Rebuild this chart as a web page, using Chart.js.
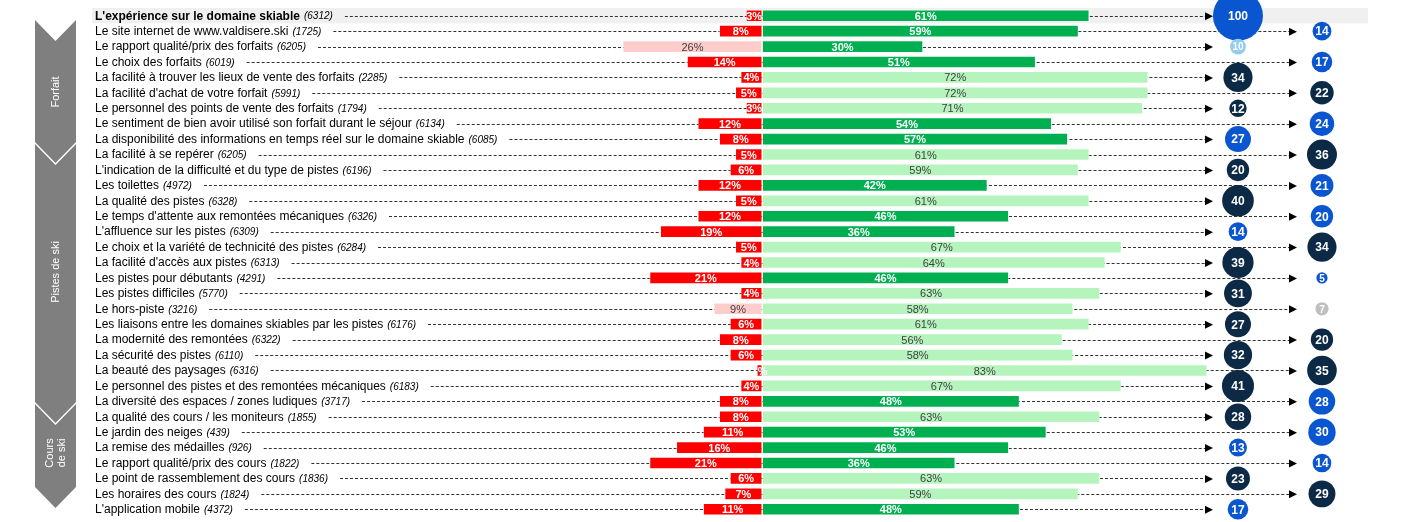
<!DOCTYPE html>
<html>
<head>
<meta charset="utf-8">
<script src="https://cdn.jsdelivr.net/npm/chart.js@4.4.1/dist/chart.umd.min.js"></script>
<style>
  html, body { margin: 0; padding: 0; background: #fff; }
  #wrap { width: 1401px; height: 522px; }
</style>
</head>
<body>
<div id="wrap"><canvas id="satisfactionChart" width="1401" height="522"></canvas></div>
<script>
// === satisfaction chart ===
// Items, base sizes, % dissatisfied / satisfied, and the bubble column on the right.

const labels = [
    "L'expérience sur le domaine skiable",
    "Le site internet de www.valdisere.ski",
    "Le rapport qualité/prix des forfaits",
    "Le choix des forfaits",
    "La facilité à trouver les lieux de vente des forfaits",
    "La facilité d'achat de votre forfait",
    "Le personnel des points de vente des forfaits",
    "Le sentiment de bien avoir utilisé son forfait durant le séjour",
    "La disponibilité des informations en temps réel sur le domaine skiable",
    "La facilité à se repérer",
    "L'indication de la difficulté et du type de pistes",
    "Les toilettes",
    "La qualité des pistes",
    "Le temps d'attente aux remontées mécaniques",
    "L'affluence sur les pistes",
    "Le choix et la variété de technicité des pistes",
    "La facilité d'accès aux pistes",
    "Les pistes pour débutants",
    "Les pistes difficiles",
    "Le hors-piste",
    "Les liaisons entre les domaines skiables par les pistes",
    "La modernité des remontées",
    "La sécurité des pistes",
    "La beauté des paysages",
    "Le personnel des pistes et des remontées mécaniques",
    "La diversité des espaces / zones ludiques",
    "La qualité des cours / les moniteurs",
    "Le jardin des neiges",
    "La remise des médailles",
    "Le rapport qualité/prix des cours",
    "Le point de rassemblement des cours",
    "Les horaires des cours",
    "L'application mobile"
];
const counts = [6312, 1725, 6205, 6019, 2285, 5991, 1794, 6134, 6085, 6205, 6196, 4972, 6328, 6326, 6309,
    6284, 6313, 4291, 5770, 3216, 6176, 6322, 6110, 6316, 6183, 3717, 1855, 439, 926, 1822, 1836, 1824, 4372];
const dissatisfied = [3, 8, 26, 14, 4, 5, 3, 12, 8, 5, 6, 12, 5, 12, 19, 5, 4, 21, 4, 9, 6, 8, 6, 1, 4, 8, 8, 11, 16, 21, 6, 7, 11];
const satisfied = [61, 59, 30, 51, 72, 72, 71, 54, 57, 61, 59, 42, 61, 46, 36, 67, 64, 46, 63, 58, 61, 56, 58, 83, 67, 48, 63, 53, 46, 36, 63, 59, 48];
// strong = saturated colour, weak = pale colour
const dissatisfiedStrong = [1, 1, 0, 1, 1, 1, 1, 1, 1, 1, 1, 1, 1, 1, 1, 1, 1, 1, 1, 0, 1, 1, 1, 1, 1, 1, 1, 1, 1, 1, 1, 1, 1];
const satisfiedStrong = [1, 1, 1, 1, 0, 0, 0, 1, 1, 0, 0, 1, 0, 1, 1, 0, 0, 1, 0, 0, 0, 0, 0, 0, 0, 1, 0, 1, 1, 1, 0, 0, 1];
const bubbleValues = [100, 14, 10, 17, 34, 22, 12, 24, 27, 36, 20, 21, 40, 20, 14, 34, 39, 5, 31, 7, 27, 20, 32, 35, 41, 28, 28, 30, 13, 14, 23, 29, 17];
const bubbleColumn = labels.map((_, i) => (i % 2 === 0 ? 1 : 2));

const sections = [
    { text: ['Forfait'], top: 20, bottom: 142, labelY: 92 },
    { text: ['Pistes de ski'], top: 144, bottom: 402, labelY: 272 },
    { text: ['Cours', 'de ski'], top: 404, bottom: 487, labelY: 453 }
];

const FONT = '"Liberation Sans", Arial, sans-serif';
const RED = '#ff0000', PINK = '#ffcccc', GREEN = '#00b050', LIGHT_GREEN = '#b5f4bd';

const bubbleColor = (i) => {
    if (satisfiedStrong[i] && dissatisfiedStrong[i]) return '#0a56d0';
    if (!satisfiedStrong[i] && dissatisfiedStrong[i]) return '#0c2a46';
    if (satisfiedStrong[i]) return '#93ccef';
    return '#bfbfbf';
};

// Left chevrons, row labels, highlight of first row, dashed leader arrows
const backgroundPlugin = {
    id: 'background',
    beforeDatasetsDraw(chart) {
        const { ctx, chartArea, scales } = chart;
        const y = scales.y;
        const band = y.getPixelForValue(1) - y.getPixelForValue(0);

        ctx.save();
        // highlight first row
        ctx.fillStyle = '#f0f0f0';
        const y0 = y.getPixelForValue(0);
        ctx.fillRect(chartArea.left, y0 - band / 2, chartArea.right - chartArea.left, band);

        // chevrons
        const xl = 35, xr = 76, xm = (xl + xr) / 2, d = 21;
        sections.forEach(s => {
            ctx.fillStyle = '#7f7f7f';
            ctx.beginPath();
            ctx.moveTo(xl, s.top);
            ctx.lineTo(xm, s.top + d);
            ctx.lineTo(xr, s.top);
            ctx.lineTo(xr, s.bottom);
            ctx.lineTo(xm, s.bottom + d);
            ctx.lineTo(xl, s.bottom);
            ctx.closePath();
            ctx.fill();
            ctx.save();
            ctx.translate(xm, s.labelY);
            ctx.rotate(-Math.PI / 2);
            ctx.fillStyle = '#fff';
            ctx.font = '11px ' + FONT;
            ctx.textAlign = 'center';
            ctx.textBaseline = 'middle';
            const n = s.text.length;
            s.text.forEach((t, k) => ctx.fillText(t, 0, (k - (n - 1) / 2) * 12));
            ctx.restore();
        });

        // labels + leaders
        const xb = scales.xb;
        labels.forEach((lab, i) => {
            const py = y.getPixelForValue(i);
            ctx.textBaseline = 'middle';
            ctx.textAlign = 'left';
            ctx.fillStyle = '#000';
            ctx.font = (i === 0 ? 'bold ' : '') + '12px ' + FONT;
            let x = 95;
            ctx.fillText(lab, x, py + 0.5);
            x += ctx.measureText(lab).width + 4;
            ctx.font = 'italic 10px ' + FONT;
            const c = '(' + counts[i] + ')';
            ctx.fillText(c, x, py + 1);
            x += ctx.measureText(c).width + 12;

            const tip = xb.getPixelForValue(bubbleColumn[i]) - 25;
            ctx.strokeStyle = '#333';
            ctx.lineWidth = 1;
            ctx.setLineDash([3, 2]);
            ctx.beginPath();
            ctx.moveTo(x, Math.round(py) + 0.5);
            ctx.lineTo(tip - 6, Math.round(py) + 0.5);
            ctx.stroke();
            ctx.setLineDash([]);
            ctx.fillStyle = '#000';
            ctx.beginPath();
            ctx.moveTo(tip - 8, py - 3.5);
            ctx.lineTo(tip, py + 0.5);
            ctx.lineTo(tip - 8, py + 4.5);
            ctx.closePath();
            ctx.fill();
        });
        ctx.restore();
    }
};

// Percent labels inside bars and numbers inside bubbles
const valueLabelPlugin = {
    id: 'valueLabels',
    afterDatasetsDraw(chart) {
        const { ctx } = chart;
        ctx.save();
        ctx.textAlign = 'center';
        ctx.textBaseline = 'middle';
        [0, 1].forEach(di => {
            const meta = chart.getDatasetMeta(di);
            const values = di === 0 ? dissatisfied : satisfied;
            const strong = di === 0 ? dissatisfiedStrong : satisfiedStrong;
            meta.data.forEach((bar, i) => {
                const cx = (bar.x + bar.base) / 2;
                if (strong[i]) {
                    ctx.fillStyle = '#fff';
                    ctx.font = 'bold 11px ' + FONT;
                } else {
                    ctx.fillStyle = '#404040';
                    ctx.font = '11px ' + FONT;
                }
                ctx.fillText(values[i] + '%', cx, bar.y + 1);
            });
        });
        const bmeta = chart.getDatasetMeta(2);
        bmeta.data.forEach((pt, i) => {
            const r = pt.options.radius;
            ctx.fillStyle = '#fff';
            ctx.font = 'bold ' + (r < 8 ? 10 : 12) + 'px ' + FONT;
            ctx.fillText(String(bubbleValues[i]), pt.x, pt.y + 1);
        });
        ctx.restore();
    }
};

const ctx = document.getElementById('satisfactionChart').getContext('2d');
new Chart(ctx, {
    type: 'bar',
    data: {
        labels: labels,
        datasets: [{
            label: 'Insatisfaits',
            data: dissatisfied.map(v => -v),
            backgroundColor: dissatisfiedStrong.map(s => (s ? RED : PINK)),
            borderColor: 'rgba(255,255,255,0.4)',
            borderWidth: 1,
            borderSkipped: false,
            barThickness: 12,
            xAxisID: 'x',
            stack: 'sat'
        }, {
            label: 'Satisfaits',
            data: satisfied,
            backgroundColor: satisfiedStrong.map(s => (s ? GREEN : LIGHT_GREEN)),
            borderColor: 'rgba(255,255,255,0.4)',
            borderWidth: 1,
            borderSkipped: false,
            barThickness: 12,
            xAxisID: 'x',
            stack: 'sat'
        }, {
            type: 'bubble',
            label: 'Écart',
            data: bubbleValues.map((v, i) => ({ x: bubbleColumn[i], y: i, r: 2.5 * Math.sqrt(v) })),
            backgroundColor: labels.map((_, i) => bubbleColor(i)),
            borderWidth: 0,
            xAxisID: 'xb',
            yAxisID: 'y',
            clip: false,
            order: -1
        }]
    },
    options: {
        indexAxis: 'y',
        responsive: false,
        animation: false,
        devicePixelRatio: 1,
        layout: { autoPadding: false, padding: { left: 92, right: 33, top: 8, bottom: 5 } },
        plugins: { legend: { display: false }, tooltip: { enabled: false } },
        scales: {
            x: { type: 'linear', min: -125, max: 113, stacked: true, display: false },
            xb: { type: 'linear', axis: 'x', min: -12.643, max: 2.548, display: false },
            y: { type: 'category', stacked: true, offset: true, display: false }
        }
    },
    plugins: [backgroundPlugin, valueLabelPlugin]
});
</script>
</body>
</html>
